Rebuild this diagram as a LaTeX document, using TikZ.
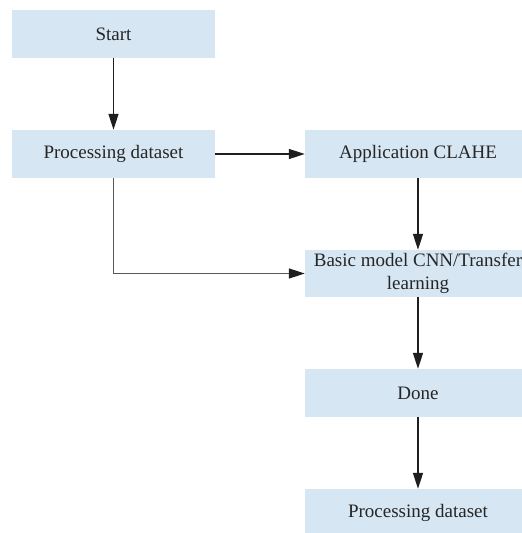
\documentclass[tikz,border=0pt]{standalone}
\usepackage{fontspec}
\setmainfont{Liberation Serif}
\usetikzlibrary{arrows.meta}
\definecolor{boxblue}{RGB}{214,230,242}
\definecolor{linecol}{RGB}{30,30,30}
\tikzset{
  fbox/.style={fill=boxblue, draw=none, minimum height=48pt, inner sep=0pt, align=center,
    font=\fontsize{19}{23}\selectfont, text=black!85},
  conn/.style={draw=linecol, line width=1.4pt, -{Triangle[length=16pt,width=10pt,color=linecol,fill=linecol]}}
}
\begin{document}
\begin{tikzpicture}[x=1pt,y=-1pt]
\useasboundingbox (0,0) rectangle (522,533);
\node[fbox, minimum width=203pt] (start) at (113.5,34) {Start};
\node[fbox, minimum width=203pt] (proc) at (113.5,154) {Processing dataset};
\node[fbox, minimum width=226pt] (clahe) at (418,154) {Application CLAHE};
\node[fbox, minimum width=226pt, minimum height=47pt] (basic) at (418,273.5) {Basic model CNN/Transfer\\learning};
\node[fbox, minimum width=226pt] (done) at (418,393) {Done};
\node[fbox, minimum width=226pt] (last) at (418,513) {Processing dataset};
\draw[conn] (start) -- (proc);
\draw[conn] (proc) -- (clahe);
\draw[conn] (clahe) -- (basic);
\draw[conn, draw=black!65] (proc.south) |- (basic.west);
\draw[conn] (basic) -- (done);
\draw[conn] (done) -- (last);
\end{tikzpicture}
\end{document}
